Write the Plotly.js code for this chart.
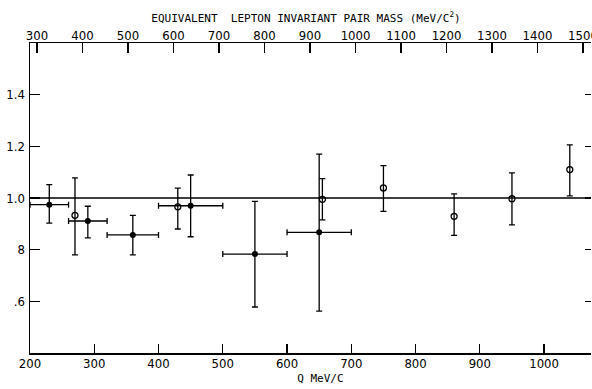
<!DOCTYPE html>
<html>
<head>
<meta charset="utf-8">
<script src="https://cdn.plot.ly/plotly-3.0.1.min.js"></script>
<style>html,body{margin:0;padding:0;background:#fff;}#chart{width:592px;height:389px;}</style>
</head>
<body>
<div id="chart"></div>
<script>
// Filled points (with Q bin widths)
var filledQ = [230, 290, 360, 450, 550, 650];
var filledRatio = [0.974, 0.911, 0.857, 0.970, 0.783, 0.867];
var filledErrUp = [0.078, 0.057, 0.076, 0.119, 0.204, 0.303];
var filledErrDown = [0.071, 0.065, 0.077, 0.120, 0.205, 0.305];
var filledQErr = [30, 30, 40, 50, 50, 50];

// Open points
var openQ = [270, 430, 655, 750, 860, 950, 1040];
var openRatio = [0.933, 0.966, 0.995, 1.039, 0.929, 0.997, 1.110];
var openErrUp = [0.145, 0.072, 0.080, 0.086, 0.087, 0.100, 0.096];
var openErrDown = [0.153, 0.086, 0.080, 0.091, 0.074, 0.101, 0.102];

// Axis ticks
var qTicks = [200, 300, 400, 500, 600, 700, 800, 900, 1000];
var massTicks = [300, 400, 500, 600, 700, 800, 900, 1000, 1100, 1200, 1300, 1400, 1500];
var yTickVals = [0.6, 0.8, 1.0, 1.2, 1.4];
var yTickText = ['.6', '8', '1.0', '1.2', '1.4'];
var unityLevel = 1.0;

var tickFont = {family: 'Liberation Sans Narrow, DejaVu Sans Condensed, sans-serif', size: 13, color: '#000'};
var titleFont = {family: 'DejaVu Sans Mono, monospace', size: 11, color: '#000'};

var traces = [
  {
    x: filledQ, y: filledRatio, type: 'scatter', mode: 'markers',
    marker: {symbol: 'circle', size: 6, color: '#000'},
    error_y: {type: 'data', symmetric: false, array: filledErrUp, arrayminus: filledErrDown, color: '#000', thickness: 1.3, width: 3},
    error_x: {type: 'data', array: filledQErr, color: '#000', thickness: 1.3, width: 3},
    showlegend: false, hoverinfo: 'x+y'
  },
  {
    x: openQ, y: openRatio, type: 'scatter', mode: 'markers',
    marker: {symbol: 'circle-open', size: 6, color: '#000', line: {width: 1.3, color: '#000'}},
    error_y: {type: 'data', symmetric: false, array: openErrUp, arrayminus: openErrDown, color: '#000', thickness: 1.3, width: 3},
    showlegend: false, hoverinfo: 'x+y'
  },
  {x: [300], y: [null], xaxis: 'x2', yaxis: 'y', type: 'scatter', mode: 'markers', showlegend: false, hoverinfo: 'skip'},
  {x: [300], y: [null], xaxis: 'x', yaxis: 'y2', type: 'scatter', mode: 'markers', showlegend: false, hoverinfo: 'skip'}
];

var layout = {
  width: 592, height: 389,
  margin: {l: 30, r: 1, t: 43, b: 36, pad: 0},
  paper_bgcolor: '#fff', plot_bgcolor: '#fff',
  showlegend: false,
  title: {
    text: 'EQUIVALENT  LEPTON INVARIANT PAIR MASS (MeV/C<sup>2</sup>)',
    font: titleFont, x: 306 / 592, xanchor: 'center', xref: 'container',
    y: 1 - 18 / 389, yanchor: 'middle', yref: 'container'
  },
  xaxis: {
    range: [200, 1073], tickvals: qTicks, ticktext: qTicks.map(String),
    ticks: 'inside', ticklen: 9, tickwidth: 1.2, tickcolor: '#000',
    showline: true, linecolor: '#000', linewidth: 1.5, showgrid: false, zeroline: false,
    tickfont: tickFont, ticklabelstandoff: -2,
    title: {text: '&nbsp;&nbsp;&nbsp;Q MeV/C', font: titleFont, standoff: 4}
  },
  xaxis2: {
    overlaying: 'x', side: 'top', anchor: 'y',
    range: [284.6, 1517.6], tickvals: massTicks, ticktext: massTicks.map(String),
    ticks: 'inside', ticklen: 10, tickwidth: 1.2, tickcolor: '#000',
    showline: true, linecolor: '#000', linewidth: 1.5, showgrid: false, zeroline: false,
    tickfont: tickFont, ticklabelstandoff: -4, ticklabeloverflow: 'allow'
  },
  yaxis: {
    range: [0.4, 1.6], tickvals: yTickVals, ticktext: yTickText,
    ticks: 'inside', ticklen: 10, tickwidth: 1.2, tickcolor: '#000',
    showline: true, linecolor: '#000', linewidth: 1.5, showgrid: false, zeroline: false,
    tickfont: tickFont, ticklabelstandoff: 1
  },
  yaxis2: {
    overlaying: 'y', side: 'right', anchor: 'x',
    range: [0.4, 1.6], tickvals: yTickVals,
    ticks: 'inside', ticklen: 6, tickwidth: 1.2, tickcolor: '#000',
    showticklabels: false, showline: false, showgrid: false, zeroline: false
  },
  shapes: [
    {type: 'line', xref: 'paper', yref: 'y', x0: 0, x1: 1, y0: unityLevel, y1: unityLevel, line: {color: '#000', width: 1.5}}
  ]
};

Plotly.newPlot('chart', traces, layout, {displayModeBar: false, staticPlot: true});
</script>
</body>
</html>
